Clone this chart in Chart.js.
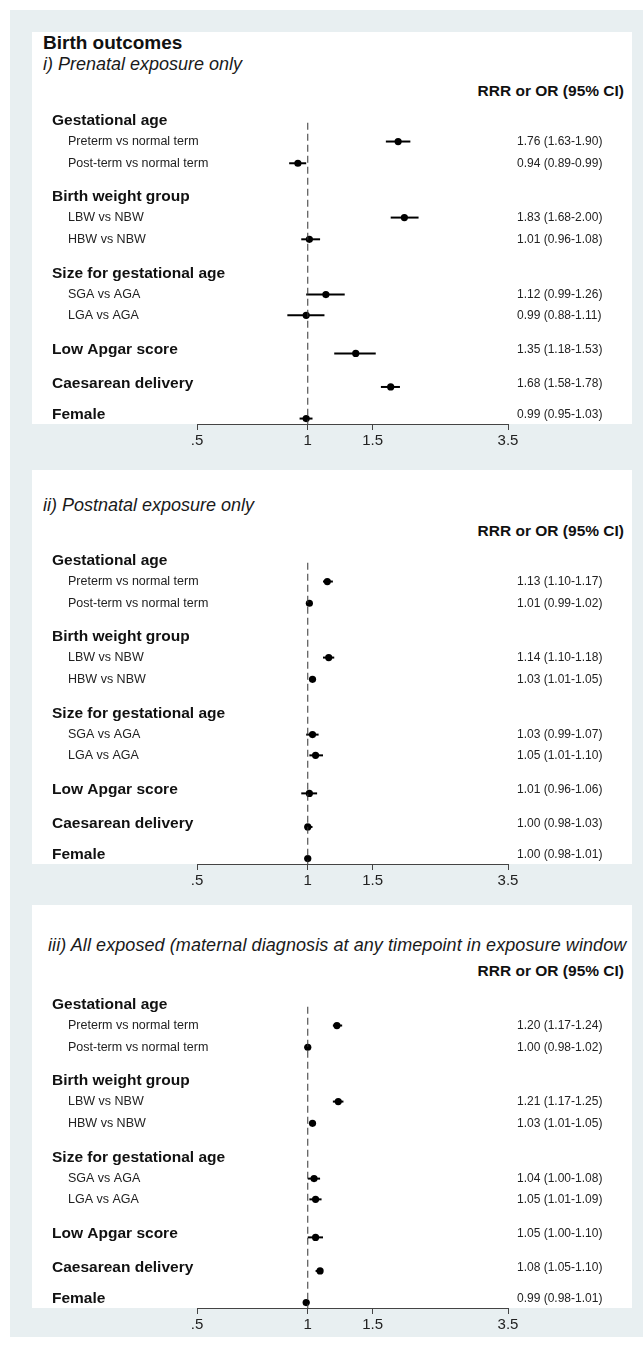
<!DOCTYPE html>
<html>
<head>
<meta charset="utf-8">
<script src="https://cdn.jsdelivr.net/npm/chart.js@4.4.1/dist/chart.umd.min.js"></script>
<style>
  body { margin: 0; background: #fff; font-family: "Liberation Sans", Arial, sans-serif; }
  #page { position: relative; width: 643px; height: 1347px; overflow: hidden; }
  .frame { position: absolute; left: 10px; top: 10px; width: 633px; height: 1327px; background: #e8eff1; }
  .plot { position: absolute; left: 32px; width: 600px; background: #fff; }
  .t { position: absolute; white-space: nowrap; color: #111; line-height: 1; }
  .title { font-weight: bold; font-size: 19px; }
  .sub { font-style: italic; font-size: 18px; color: #1a1a1a; }
  .hdr { font-weight: bold; font-size: 15.5px; right: 19px; }
  canvas { position: absolute; left: 32px; }
</style>
</head>
<body>
<div id="page">
  <div class="frame"></div>
  <div class="plot" style="top:32px;height:392px"></div>
  <div class="plot" style="top:470px;height:394px"></div>
  <div class="plot" style="top:905px;height:403px"></div>

  <div class="t title" style="left:43px;top:33px">Birth outcomes</div>
  <div class="t sub" style="left:43px;top:55px">i) Prenatal exposure only</div>
  <div class="t hdr" style="top:83px">RRR or OR (95% CI)</div>

  <div class="t sub" style="left:43px;top:496px">ii) Postnatal exposure only</div>
  <div class="t hdr" style="top:523px">RRR or OR (95% CI)</div>

  <div class="t sub" style="left:48px;top:936px;letter-spacing:0.08px">iii) All exposed (maternal diagnosis at any timepoint in exposure window</div>
  <div class="t hdr" style="top:963px">RRR or OR (95% CI)</div>

  <canvas id="c1" width="600" height="354" style="top:100px"></canvas>
  <canvas id="c2" width="600" height="354" style="top:540px"></canvas>
  <canvas id="c3" width="600" height="354" style="top:984px"></canvas>
</div>

<script>
// --------- Data ----------
const rowLabels = [
  "Gestational age", "Preterm vs normal term", "Post-term vs normal term",
  "Birth weight group", "LBW vs NBW", "HBW vs NBW",
  "Size for gestational age", "SGA vs AGA", "LGA vs AGA",
  "Low Apgar score", "Caesarean delivery", "Female"
];
const rowIsHeader = [true, false, false, true, false, false, true, false, false, true, true, true];
// rows that carry an estimate (index into rowLabels)
const estRows = [1, 2, 4, 5, 7, 8, 9, 10, 11];

const prenatalEst = [1.76, 0.94, 1.83, 1.01, 1.12, 0.99, 1.35, 1.68, 0.99];
const prenatalLo  = [1.63, 0.89, 1.68, 0.96, 0.99, 0.88, 1.18, 1.58, 0.95];
const prenatalHi  = [1.90, 0.99, 2.00, 1.08, 1.26, 1.11, 1.53, 1.78, 1.03];

const postnatalEst = [1.13, 1.01, 1.14, 1.03, 1.03, 1.05, 1.01, 1.00, 1.00];
const postnatalLo  = [1.10, 0.99, 1.10, 1.01, 0.99, 1.01, 0.96, 0.98, 0.98];
const postnatalHi  = [1.17, 1.02, 1.18, 1.05, 1.07, 1.10, 1.06, 1.03, 1.01];

const allEst = [1.20, 1.00, 1.21, 1.03, 1.04, 1.05, 1.05, 1.08, 0.99];
const allLo  = [1.17, 0.98, 1.17, 1.01, 1.00, 1.01, 1.00, 1.05, 0.98];
const allHi  = [1.24, 1.02, 1.25, 1.05, 1.08, 1.09, 1.10, 1.10, 1.01];

const tickValues = [0.5, 1, 1.5, 3.5];
const tickLabels = [".5", "1", "1.5", "3.5"];

// --------- Layout (y offsets in px from the first header) ----------
const rowOffset = [0, 21, 43, 77, 98, 120, 155, 176, 197, 232, 266, 298];
const headerMarkShift = 3.5;   // markers on header rows sit a bit lower
const axisOffset = 307;
const FONT = '"Liberation Sans", Arial, sans-serif';

function markY(r) {
  return rowOffset[r] + (rowIsHeader[r] ? headerMarkShift : 0);
}

// draws the row names on the left and the estimate text on the right
const rowText = {
  id: "rowText",
  afterDraw(chart) {
    const ctx = chart.ctx;
    const ys = chart.scales.y;
    const p = chart.options.plugins.rowText;
    ctx.save();
    ctx.textBaseline = "middle";
    rowLabels.forEach((lab, r) => {
      const y = ys.getPixelForValue(rowOffset[r]);
      if (rowIsHeader[r]) {
        ctx.font = "bold 15.5px " + FONT;
        ctx.fillStyle = "#111";
        ctx.fillText(lab, 20, y);
      } else {
        ctx.font = "12.5px " + FONT;
        ctx.fillStyle = "#222";
        ctx.fillText(lab, 36, y);
      }
    });
    ctx.font = "12px " + FONT;
    ctx.fillStyle = "#222";
    estRows.forEach((r, i) => {
      const y = ys.getPixelForValue(rowOffset[r]);
      const txt = p.est[i].toFixed(2) + " (" + p.lo[i].toFixed(2) + "-" + p.hi[i].toFixed(2) + ")";
      ctx.fillText(txt, 485, y);
    });
    ctx.restore();
  }
};

function buildForest(id, est, lo, hi) {
  const datasets = [];
  // reference line at 1
  datasets.push({
    data: [{ x: 1, y: 2 }, { x: 1, y: axisOffset }],
    showLine: true, borderColor: "#333", borderWidth: 1, borderDash: [7, 4],
    pointRadius: 0
  });
  // confidence intervals
  estRows.forEach((r, i) => {
    datasets.push({
      data: [{ x: lo[i], y: markY(r) }, { x: hi[i], y: markY(r) }],
      showLine: true, borderColor: "#000", borderWidth: 2, pointRadius: 0
    });
  });
  // point estimates
  datasets.push({
    data: estRows.map((r, i) => ({ x: est[i], y: markY(r) })),
    pointRadius: 3.6, pointBackgroundColor: "#000", pointBorderWidth: 0
  });

  return new Chart(document.getElementById(id), {
    type: "scatter",
    data: { datasets },
    options: {
      responsive: false,
      animation: false,
      events: [],
      layout: { padding: { left: 165, right: 124, top: 0, bottom: 0 } },
      plugins: {
        legend: { display: false },
        tooltip: { enabled: false },
        rowText: { est, lo, hi }
      },
      scales: {
        x: {
          type: "logarithmic",
          min: 0.5, max: 3.5,
          afterBuildTicks: s => { s.ticks = tickValues.map(v => ({ value: v })); },
          afterFit: s => { s.height = 30; },
          grid: { drawOnChartArea: false, drawTicks: true, tickLength: 6, color: "#444" },
          border: { display: true, color: "#444", width: 1 },
          ticks: {
            autoSkip: false, maxRotation: 0, padding: 2,
            color: "#222", font: { family: FONT, size: 15 },
            callback: (v, i) => tickLabels[i]
          }
        },
        y: { type: "linear", min: -17, max: axisOffset, reverse: true, display: false }
      }
    },
    plugins: [rowText]
  });
}

buildForest("c1", prenatalEst, prenatalLo, prenatalHi);
buildForest("c2", postnatalEst, postnatalLo, postnatalHi);
buildForest("c3", allEst, allLo, allHi);
</script>
</body>
</html>
